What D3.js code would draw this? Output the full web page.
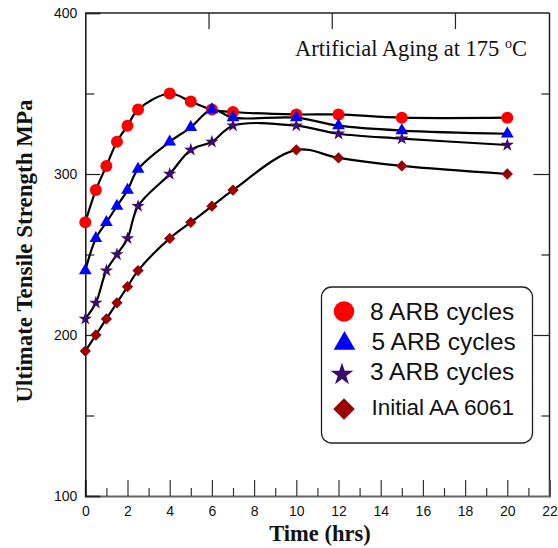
<!DOCTYPE html>
<html>
<head>
<meta charset="utf-8">
<script src="https://cdn.jsdelivr.net/npm/d3@7"></script>
<style>
  html, body { margin: 0; padding: 0; background: #fff; }
  svg { display: block; }
</style>
</head>
<body>
<svg id="chart" width="558" height="548"></svg>
<script>
// ---- data ----
const times = [0, 0.5, 1, 1.5, 2, 2.5, 4, 5, 6, 7, 10, 12, 15, 20];
const arb8  = [270, 290, 305, 320, 330, 340, 350, 345, 340, 338.5, 337, 337, 335, 335];
const arb5  = [240, 260, 270, 280, 290, 303, 320, 329, 340, 335, 335, 330, 327, 325];
const arb3  = [210, 220, 240, 250, 260, 280, 300, 315, 320, 330, 330, 325, 322, 318];
const aa6061 = [190, 200, 210, 220, 230, 240, 260, 270, 280, 290, 315, 310, 305, 300];
const seriesNames = ["8 ARB cycles", "5 ARB cycles", "3 ARB cycles", "Initial AA 6061"];
const seriesColors = ["#ff0000", "#0000ff", "#3a0a6e", "#990000"];
const xMajorTicks = [0, 2, 4, 6, 8, 10, 12, 14, 16, 18, 20, 22];
const xMinorTicks = [1, 3, 5, 7, 9, 11, 13, 15, 17, 19, 21];
const yMajorTicks = [100, 200, 300, 400];
const yMinorTicks = [150, 250, 350];
const topTicks = [5.84, 11.68, 17.52];
const titleText = "Artificial Aging at 175";
const xLabel = "Time (hrs)";
const yLabel = "Ultimate Tensile Strength MPa";

const svg = d3.select("#chart");
const L = 85.3, R = 549.5, T = 13, B = 496;
const x = d3.scaleLinear().domain([0, 22]).range([L, R]);
const y = d3.scaleLinear().domain([100, 400]).range([B, T]);

// frame lines
const frame = svg.append("g");
frame.append("line").attr("x1", L).attr("x2", R).attr("y1", T).attr("y2", T).attr("stroke", "#222").attr("stroke-width", 1.5);
frame.append("line").attr("x1", R).attr("x2", R).attr("y1", T).attr("y2", B).attr("stroke", "#222").attr("stroke-width", 1.5);

// bottom axis
const gx = svg.append("g").attr("transform", `translate(0,${B})`);
gx.call(d3.axisBottom(x).tickValues(xMajorTicks).tickSize(-16).tickPadding(10).tickFormat(d3.format("d")));
const gx2 = svg.append("g").attr("transform", `translate(0,${B})`);
gx2.call(d3.axisBottom(x).tickValues(xMinorTicks).tickSize(-8).tickFormat(""));
[gx, gx2].forEach(g => {
  g.select(".domain").attr("stroke", "#666").attr("stroke-width", 2);
  g.selectAll(".tick line").attr("stroke", "#333").attr("stroke-width", 1.2);
  g.selectAll(".tick text").attr("font-family", "'Liberation Sans', Arial, sans-serif").attr("font-size", 14).attr("fill", "#111");
});
gx2.select(".domain").remove();

// left axis
const gy = svg.append("g").attr("transform", `translate(${L},0)`);
gy.call(d3.axisLeft(y).tickValues(yMajorTicks).tickSize(-15).tickPadding(8).tickFormat(d3.format("d")));
const gy2 = svg.append("g").attr("transform", `translate(${L},0)`);
gy2.call(d3.axisLeft(y).tickValues(yMinorTicks).tickSize(-9).tickFormat(""));
[gy, gy2].forEach(g => {
  g.select(".domain").attr("stroke", "#111").attr("stroke-width", 1.5);
  g.selectAll(".tick line").attr("stroke", "#222").attr("stroke-width", 1.2);
  g.selectAll(".tick text").attr("font-family", "'Liberation Sans', Arial, sans-serif").attr("font-size", 14).attr("fill", "#111");
});
gy2.select(".domain").remove();

// right axis ticks
const gr = svg.append("g").attr("transform", `translate(${R},0)`);
gr.call(d3.axisRight(y).tickValues(yMajorTicks.filter(v => v > 100 && v < 400)).tickSize(-16).tickFormat(""));
const gr2 = svg.append("g").attr("transform", `translate(${R},0)`);
gr2.call(d3.axisRight(y).tickValues(yMinorTicks).tickSize(-8).tickFormat(""));
[gr, gr2].forEach(g => {
  g.select(".domain").remove();
  g.selectAll(".tick line").attr("stroke", "#222").attr("stroke-width", 1.2);
});

// top axis ticks
const gt = svg.append("g").attr("transform", `translate(0,${T})`);
gt.call(d3.axisTop(x).tickValues(topTicks).tickSize(-16).tickFormat(""));
gt.select(".domain").remove();
gt.selectAll(".tick line").attr("stroke", "#222").attr("stroke-width", 1.2);

// series
const allSeries = [arb8, arb5, arb3, aa6061];
const line = d3.line().x(d => x(d[0])).y(d => y(d[1])).curve(d3.curveCatmullRom.alpha(0.5));
allSeries.forEach(vals => {
  svg.append("path")
    .datum(times.map((t, i) => [t, vals[i]]))
    .attr("d", line)
    .attr("fill", "none")
    .attr("stroke", "#000")
    .attr("stroke-width", 2.2);
});

function markerPath(idx, scale) {
  if (idx === 0) return d3.symbol(d3.symbolCircle, Math.PI * 36 * scale * scale)();
  if (idx === 1) return d3.symbol(d3.symbolTriangle, 70 * scale * scale)();
  if (idx === 2) return d3.symbol(d3.symbolStar, 55 * scale * scale)();
  return d3.symbol(d3.symbolSquare, 64 * scale * scale)();
}
allSeries.forEach((vals, si) => {
  svg.append("g").selectAll("path")
    .data(times.map((t, i) => [t, vals[i]]))
    .join("path")
    .attr("d", markerPath(si, 1))
    .attr("transform", d => `translate(${x(d[0])},${y(d[1])})` + (si === 3 ? " rotate(45)" : ""))
    .attr("fill", seriesColors[si]);
});

// title
const title = svg.append("text")
  .attr("x", 295).attr("y", 56)
  .attr("font-family", "'Liberation Serif', 'Times New Roman', serif")
  .attr("font-size", 22.5)
  .attr("fill", "#111");
title.append("tspan").text(titleText + " ");
title.append("tspan").text("o").attr("font-size", 14).attr("dy", -8);
title.append("tspan").text("C").attr("dy", 8);

// axis labels
svg.append("text")
  .attr("x", 320).attr("y", 541)
  .attr("text-anchor", "middle")
  .attr("font-family", "'Liberation Serif', 'Times New Roman', serif")
  .attr("font-weight", "bold")
  .attr("font-size", 22.5)
  .attr("fill", "#111")
  .text(xLabel);
svg.append("text")
  .attr("transform", "translate(32,251) rotate(-90)")
  .attr("text-anchor", "middle")
  .attr("font-family", "'Liberation Serif', 'Times New Roman', serif")
  .attr("font-weight", "bold")
  .attr("font-size", 23)
  .attr("fill", "#111")
  .text(yLabel);

// legend
const lg = svg.append("g");
lg.append("rect")
  .attr("x", 321.5).attr("y", 287).attr("width", 211).attr("height", 156)
  .attr("rx", 10).attr("ry", 10)
  .attr("fill", "#fff").attr("stroke", "#222").attr("stroke-width", 1.3);
const legendRows = [
  { mx: 344, my: 311.5, tx: 370, ty: 320, fs: 24.5, sc: 1.7 },
  { mx: 344.5, my: 343.5, tx: 371.5, ty: 350, fs: 24.5, sc: 1.7 },
  { mx: 342, my: 374.5, tx: 370, ty: 380, fs: 24.5, sc: 1.7 },
  { mx: 344, my: 409, tx: 371.5, ty: 415, fs: 22.5, sc: 1.9 }
];
legendRows.forEach((r, i) => {
  lg.append("path")
    .attr("d", markerPath(i, r.sc))
    .attr("transform", `translate(${r.mx},${r.my})` + (i === 3 ? " rotate(45)" : ""))
    .attr("fill", seriesColors[i]);
  lg.append("text")
    .attr("x", r.tx).attr("y", r.ty)
    .attr("font-family", "'Liberation Sans', Arial, sans-serif")
    .attr("font-size", r.fs)
    .attr("fill", "#111")
    .text(seriesNames[i]);
});
</script>
</body>
</html>
